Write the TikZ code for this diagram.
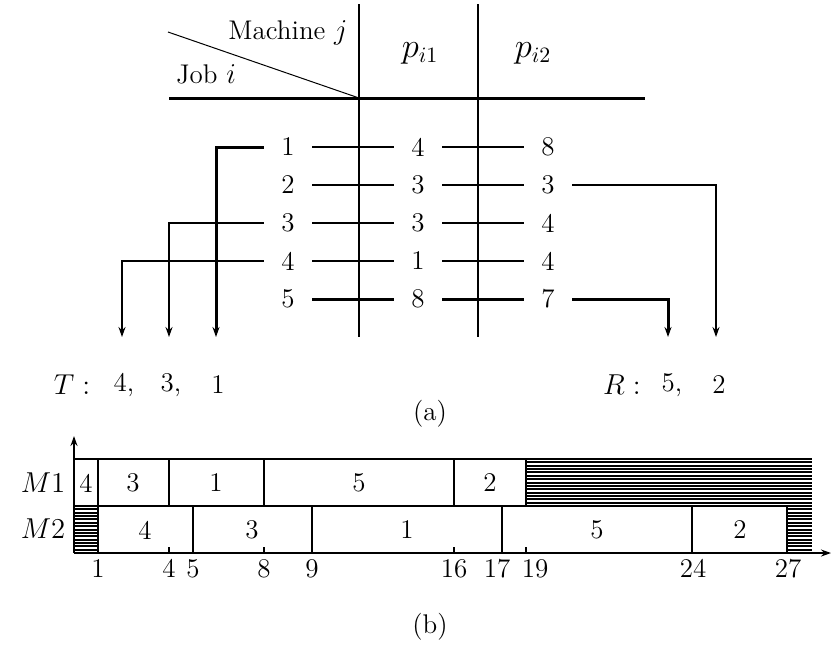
\documentclass[tikz,border=0pt]{standalone}
\usetikzlibrary{arrows.meta}
\begin{document}
\begin{tikzpicture}[x=0.5pt,y=-0.5pt, font=\fontsize{13.5}{16}\selectfont,
  num/.style={minimum width=24pt, inner sep=0pt, minimum height=10pt},
  conn/.style={line width=1pt},
  connb/.style={line width=1.5pt},
  arr/.style={-{Stealth[length=5pt,width=3.5pt]}, line width=1pt},
  box/.style={line width=1pt},
  hatch/.style={line width=1pt},
  lbl/.style={inner sep=0pt}]
\useasboundingbox (0,0) rectangle (833,644);

% ---- table header
\draw[line width=1pt] (359,4) -- (359,337);
\draw[line width=1pt] (478,4) -- (478,337);
\draw[line width=1.5pt] (169,98) -- (645,98);
\draw[line width=0.5pt] (168,32) -- (359,98);
\node[lbl, anchor=base] (hm) at (288,39) {Machine $j$};
\node[lbl, anchor=base] (hj) at (206,83) {Job $i$};
\node[lbl, anchor=base, font=\fontsize{16}{19}\selectfont] (p1) at (420,57) {$p_{i1}$};
\node[lbl, anchor=base, font=\fontsize{16}{19}\selectfont] (p2) at (533,57) {$p_{i2}$};

% ---- rows
\foreach \i/\a/\b/\c/\y in {1/1/4/8/147, 2/2/3/3/185, 3/3/3/4/223, 4/4/1/4/261, 5/5/8/7/299} {
  \node[num] (a\i) at (288,\y) {\a};
  \node[num] (b\i) at (418,\y) {\b};
  \node[num] (c\i) at (548,\y) {\c};
}
\foreach \i in {1,...,4} {
  \draw[conn] (a\i) -- (b\i);
  \draw[conn] (b\i) -- (c\i);
}
\draw[connb] (a5) -- (b5);
\draw[connb] (b5) -- (c5);

\coordinate (t4) at (122,337);
\coordinate (t3) at (169,337);
\coordinate (t1) at (216,337);
\coordinate (r5) at (668,337);
\coordinate (r2) at (716,337);
\draw[arr] (a4.west) -| (t4);
\draw[arr] (a3.west) -| (t3);
\draw[arr, line width=1.5pt] (a1.west) -| (t1);
\draw[arr] (c2.east) -| (r2);
\draw[arr, line width=1.5pt] (c5.east) -| (r5);

\node[lbl] (T) at (72,385) {$T:$};
\node[lbl] (T4) at (124,385) {4,};
\node[lbl] (T3) at (171,385) {3,};
\node[lbl] (T1) at (218,385) {1};
\node[lbl] (R) at (622,385) {$R:$};
\node[lbl] (R5) at (672,385) {5,};
\node[lbl] (R2) at (719,385) {2};
\node[lbl] (capa) at (430,414) {(a)};

% ---- Gantt chart
\foreach \k in {0,...,14} {
  \draw[hatch] (526,{459+\k*47/14}) -- (812,{459+\k*47/14});
  \draw[hatch] (74,{506+\k*47/14}) -- (98,{506+\k*47/14});
  \draw[hatch] (787,{506+\k*47/14}) -- (812,{506+\k*47/14});
}
\draw[box] (74,459) -- (812,459);
\draw[box] (74,506) -- (812,506);
\foreach \x in {98,169,264,454,526} \draw[box] (\x,459) -- (\x,506);
\foreach \x in {98,193,312,502,692,787} \draw[box] (\x,506) -- (\x,553);
\foreach \x in {169,264,454,526} \draw[box] (\x,553) -- (\x,547);

\coordinate (o) at (74,553);
\coordinate (xe) at (831,553);
\coordinate (ye) at (74,436);
\draw[arr] (o) -- (xe);
\draw[arr] (o) -- (ye);

\node[lbl] (m1) at (43,483) {$M1$};
\node[lbl] (m2) at (43,529) {$M2$};

\foreach \x/\t in {86/4, 133/3, 216/1, 359/5, 490/2}
  \node[lbl] at (\x,483) {\t};
\foreach \x/\t in {145/4, 252/3, 407/1, 597/5, 740/2}
  \node[lbl] at (\x,530) {\t};

\foreach \x/\t in {98/1, 169/4, 193/5, 264/8, 312/9, 454/16, 497/17, 535/19, 693/24, 788/27}
  \node[lbl, anchor=north] at (\x,559) {\t};

\node[lbl] (capb) at (430,627) {(b)};
\end{tikzpicture}
\end{document}
